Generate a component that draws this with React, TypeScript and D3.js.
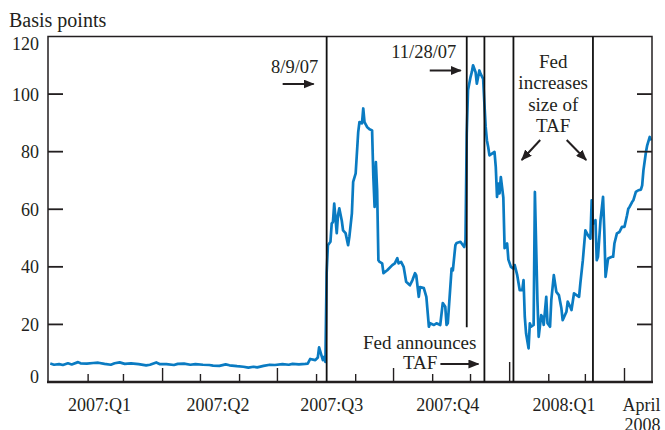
import * as d3 from 'd3';

type Point = [string, number];

// Libor-OIS style spread, basis points
const calmDays: Point[] = [
  ['2007-01-02', 6.4], ['2007-01-05', 6.0], ['2007-01-09', 6.2], ['2007-01-12', 5.9],
  ['2007-01-16', 6.5], ['2007-01-19', 6.1], ['2007-01-24', 6.9], ['2007-01-26', 6.5],
  ['2007-01-31', 6.4], ['2007-02-05', 6.6], ['2007-02-09', 6.7], ['2007-02-14', 6.3],
  ['2007-02-19', 6.0], ['2007-02-22', 6.5], ['2007-02-26', 6.8], ['2007-03-02', 6.3],
  ['2007-03-07', 6.5], ['2007-03-13', 6.2], ['2007-03-19', 5.8], ['2007-03-22', 6.0],
  ['2007-03-27', 6.8], ['2007-03-30', 6.2], ['2007-04-04', 6.2], ['2007-04-10', 5.9],
  ['2007-04-13', 6.3], ['2007-04-18', 6.4], ['2007-04-23', 6.0], ['2007-04-27', 6.2],
  ['2007-05-03', 6.0], ['2007-05-08', 5.9], ['2007-05-11', 5.7], ['2007-05-16', 5.6],
  ['2007-05-21', 6.1], ['2007-05-24', 5.8], ['2007-05-30', 5.5], ['2007-06-04', 5.3],
  ['2007-06-08', 5.0], ['2007-06-12', 5.3], ['2007-06-15', 5.1], ['2007-06-20', 5.6],
  ['2007-06-25', 6.0], ['2007-06-29', 5.9], ['2007-07-05', 6.2], ['2007-07-10', 6.0],
  ['2007-07-13', 6.3], ['2007-07-18', 6.1], ['2007-07-23', 6.3], ['2007-07-25', 6.4],
  ['2007-07-27', 8.0], ['2007-07-31', 7.6], ['2007-08-02', 8.5], ['2007-08-03', 12.0],
  ['2007-08-06', 7.6], ['2007-08-07', 8.7], ['2007-08-08', 7.0],
];

const turmoil2007: Point[] = [
  ['2007-08-09', 38.0], ['2007-08-10', 47.5], ['2007-08-12', 48.7], ['2007-08-13', 55.0],
  ['2007-08-14', 55.6], ['2007-08-15', 62.0], ['2007-08-17', 51.7], ['2007-08-18', 58.0],
  ['2007-08-19', 60.3], ['2007-08-21', 56.0], ['2007-08-22', 52.7], ['2007-08-24', 51.7],
  ['2007-08-26', 47.5], ['2007-08-27', 50.4], ['2007-08-29', 58.6], ['2007-08-30', 69.5],
  ['2007-09-01', 72.5], ['2007-09-03', 86.8], ['2007-09-04', 90.3], ['2007-09-06', 89.8],
  ['2007-09-07', 95.0], ['2007-09-08', 90.3], ['2007-09-10', 88.6], ['2007-09-12', 87.8],
  ['2007-09-14', 87.4], ['2007-09-15', 71.2], ['2007-09-16', 60.8], ['2007-09-17', 76.4],
  ['2007-09-18', 66.6], ['2007-09-19', 42.3], ['2007-09-20', 41.7], ['2007-09-22', 41.2],
  ['2007-09-23', 37.8], ['2007-09-26', 38.8], ['2007-09-30', 40.6], ['2007-10-02', 41.2],
  ['2007-10-04', 43.0], ['2007-10-05', 41.2], ['2007-10-07', 41.7], ['2007-10-09', 40.0],
  ['2007-10-11', 34.8], ['2007-10-14', 33.6], ['2007-10-16', 35.4], ['2007-10-18', 37.8],
  ['2007-10-19', 37.0], ['2007-10-21', 29.6], ['2007-10-22', 33.0], ['2007-10-25', 32.6],
  ['2007-10-27', 29.6], ['2007-10-29', 19.2], ['2007-10-30', 20.4], ['2007-11-02', 19.8],
  ['2007-11-04', 20.4], ['2007-11-07', 19.8], ['2007-11-09', 27.4], ['2007-11-11', 26.1],
  ['2007-11-12', 19.8], ['2007-11-13', 20.4], ['2007-11-16', 39.4], ['2007-11-17', 38.8],
  ['2007-11-19', 47.5], ['2007-11-20', 48.3], ['2007-11-23', 48.7], ['2007-11-24', 48.1],
  ['2007-11-26', 46.9], ['2007-11-27', 49.3], ['2007-11-28', 86.3], ['2007-11-29', 101.3],
  ['2007-12-01', 105.9], ['2007-12-02', 107.6], ['2007-12-03', 110.0], ['2007-12-05', 107.6],
  ['2007-12-06', 103.6], ['2007-12-08', 108.2], ['2007-12-09', 107.0], ['2007-12-11', 105.3],
  ['2007-12-12', 96.7], ['2007-12-13', 88.6], ['2007-12-14', 83.9], ['2007-12-15', 81.6],
  ['2007-12-16', 78.7], ['2007-12-18', 79.3], ['2007-12-20', 79.9], ['2007-12-21', 74.7],
  ['2007-12-22', 64.3], ['2007-12-23', 68.9], ['2007-12-24', 65.5], ['2007-12-25', 71.2],
  ['2007-12-26', 67.7], ['2007-12-27', 64.0], ['2007-12-28', 46.5], ['2007-12-29', 47.0],
  ['2007-12-30', 48.1], ['2007-12-31', 42.5],
];

const turmoil2008: Point[] = [
  ['2008-01-02', 40.0], ['2008-01-04', 39.4], ['2008-01-05', 40.6], ['2008-01-07', 37.1],
  ['2008-01-09', 31.9], ['2008-01-11', 31.9], ['2008-01-12', 35.4], ['2008-01-13', 22.6],
  ['2008-01-14', 16.9], ['2008-01-16', 11.7], ['2008-01-17', 20.4], ['2008-01-18', 19.2],
  ['2008-01-20', 19.8], ['2008-01-21', 66.0], ['2008-01-23', 28.4], ['2008-01-24', 15.7],
  ['2008-01-26', 23.2], ['2008-01-27', 22.6], ['2008-01-28', 19.8], ['2008-01-30', 29.6],
  ['2008-01-31', 20.4], ['2008-02-02', 19.2], ['2008-02-03', 28.4], ['2008-02-05', 37.1],
  ['2008-02-07', 31.3], ['2008-02-09', 30.2], ['2008-02-11', 25.6], ['2008-02-12', 21.5],
  ['2008-02-15', 24.4], ['2008-02-16', 27.9], ['2008-02-18', 26.1], ['2008-02-19', 25.0],
  ['2008-02-21', 30.8], ['2008-02-23', 30.2], ['2008-02-25', 29.6], ['2008-02-26', 34.2],
  ['2008-02-28', 42.3], ['2008-03-01', 52.7], ['2008-03-03', 51.0], ['2008-03-05', 49.8],
  ['2008-03-06', 63.1], ['2008-03-07', 55.0], ['2008-03-09', 56.2], ['2008-03-10', 42.3],
  ['2008-03-11', 43.5], ['2008-03-13', 56.2], ['2008-03-15', 64.3], ['2008-03-16', 52.7],
  ['2008-03-17', 36.5], ['2008-03-19', 42.9], ['2008-03-22', 43.5], ['2008-03-23', 43.5],
  ['2008-03-24', 48.1], ['2008-03-26', 51.6], ['2008-03-28', 52.1], ['2008-03-30', 53.9],
  ['2008-04-01', 53.9], ['2008-04-03', 57.9], ['2008-04-04', 60.2], ['2008-04-05', 60.8],
  ['2008-04-07', 62.5], ['2008-04-08', 63.1], ['2008-04-10', 66.0], ['2008-04-12', 66.6],
  ['2008-04-14', 66.8], ['2008-04-15', 68.3], ['2008-04-16', 73.5], ['2008-04-18', 79.9],
  ['2008-04-19', 82.2], ['2008-04-21', 85.1], ['2008-04-22', 83.9],
];

const yTickValues = [0, 20, 40, 60, 80, 100, 120];
const quarterLabels = ['2007:Q1', '2007:Q2', '2007:Q3', '2007:Q4', '2008:Q1'];
const quarterLabelDates = ['2007-02-10', '2007-05-15', '2007-08-13', '2007-11-13', '2008-02-13'];
const aug9 = '2007-08-09';
const nov28 = '2007-11-28';
const tafAnnounced = '2007-12-12';
const tafIncreases = ['2008-01-04', '2008-03-07'];

const W = 665;
const H = 430;
const INK = '#231f20';
const BLUE = '#0a7bc2';
const FONT = "'Liberation Serif', 'Times New Roman', serif";

const parse = d3.utcParse('%Y-%m-%d');

export default function App() {
  const x = d3
    .scaleUtc()
    .domain([new Date(Date.UTC(2006, 11, 31, 5)), new Date(Date.UTC(2008, 3, 22, 19))])
    .range([48, 652]);
  const y = d3.scaleLinear().domain([0, 120]).range([382, 36.5]);

  const series = [...calmDays, ...turmoil2007, ...turmoil2008].map(([d, v]) => ({
    date: parse(d) as Date,
    value: v,
  }));

  const line = d3
    .line<{ date: Date; value: number }>()
    .x((d) => x(d.date))
    .y((d) => y(d.value));

  const [x0, x1] = x.range();
  const months = d3.utcMonth.range(new Date(Date.UTC(2007, 1, 1)), x.domain()[1]);

  const xAug = x(parse(aug9) as Date);
  const xNov = x(parse(nov28) as Date);
  const xTaf = x(parse(tafAnnounced) as Date);
  const xInc = tafIncreases.map((d) => x(parse(d) as Date));
  const incMid = (xInc[0] + xInc[1]) / 2;
  const xApril = x(new Date(Date.UTC(2008, 3, 1)));

  const arrow = (ax1: number, ay1: number, ax2: number, ay2: number) => (
    <line x1={ax1} y1={ay1} x2={ax2} y2={ay2} stroke={INK} strokeWidth={2} markerEnd="url(#head)" />
  );

  return (
    <svg
      width={W}
      height={H}
      style={{ position: 'absolute', left: 0, top: 0, background: '#fff' }}
      fontFamily={FONT}
      fill={INK}
    >
      <defs>
        <marker id="head" markerUnits="userSpaceOnUse" markerWidth={11} markerHeight={9} refX={10} refY={4.5} orient="auto">
          <path d="M0,0 L11,4.5 L0,9 Z" fill={INK} />
        </marker>
      </defs>

      <text x={9} y={26.5} fontSize={20}>Basis points</text>

      {/* series */}
      <path d={line(series) ?? ''} fill="none" stroke={BLUE} strokeWidth={2.7} strokeLinejoin="round" />

      {/* frame */}
      <rect x={x0} y={y(120)} width={x1 - x0} height={y(0) - y(120)} fill="none" stroke={INK} strokeWidth={1.5} />
      <line x1={x0 - 1} x2={x1 + 1} y1={y(0)} y2={y(0)} stroke={INK} strokeWidth={2.6} />

      {/* y ticks both sides */}
      {yTickValues.filter((v) => v > 0 && v < 120).map((v) => (
        <g key={v} stroke={INK} strokeWidth={1.8}>
          <line x1={x0} x2={x0 + 15} y1={y(v)} y2={y(v)} />
          <line x1={x1 - 15} x2={x1} y1={y(v)} y2={y(v)} />
        </g>
      ))}
      {yTickValues.map((v) => (
        <text key={v} x={39} y={y(v) + (v === 0 ? 1 : v === 120 ? 13.5 : 6.5)} fontSize={18} textAnchor="end">
          {v}
        </text>
      ))}

      {/* month ticks */}
      {months.map((m) => {
        const mo = m.getUTCMonth();
        const len = mo === 0 ? 20 : mo % 3 === 0 ? 14 : 8;
        return <line key={m.toISOString()} x1={x(m)} x2={x(m)} y1={y(0)} y2={y(0) - len} stroke={INK} strokeWidth={1.4} />;
      })}

      {quarterLabels.map((q, i) => (
        <text key={q} x={x(parse(quarterLabelDates[i]) as Date)} y={411} fontSize={18} textAnchor="middle">
          {q}
        </text>
      ))}
      <text x={xApril - 2} y={411} fontSize={18}>April</text>
      <text x={xApril} y={431} fontSize={18}>2008</text>

      {/* event lines */}
      <g stroke="#111" strokeWidth={1.8}>
        <line x1={xAug} x2={xAug} y1={y(120)} y2={y(0)} />
        <line x1={xNov} x2={xNov} y1={y(120)} y2={y(19)} />
        <line x1={xTaf} x2={xTaf} y1={y(120)} y2={y(0)} />
        {xInc.map((xi) => (
          <line key={xi} x1={xi} x2={xi} y1={y(120)} y2={y(0)} />
        ))}
      </g>

      {/* annotations */}
      <text x={xAug - 32} y={73} fontSize={18.5} textAnchor="middle">8/9/07</text>
      {arrow(xAug - 44, 84, xAug - 13, 84)}

      <text x={xNov - 43} y={58} fontSize={18.5} textAnchor="middle">11/28/07</text>
      {arrow(xNov - 37, 70.5, xNov - 6, 70.5)}

      <text x={xTaf - 8} y={349} fontSize={19} textAnchor="end">Fed announces</text>
      <text x={xTaf - 47} y={368.5} fontSize={19} textAnchor="end">TAF</text>
      {arrow(xTaf - 44, 364, xTaf - 6, 364)}

      <g fontSize={19} textAnchor="middle">
        <text x={incMid} y={67.5}>Fed</text>
        <text x={incMid} y={89}>increases</text>
        <text x={incMid} y={110.5}>size of</text>
        <text x={incMid} y={132}>TAF</text>
      </g>
      {arrow(incMid - 13, 140, incMid - 31.5, 160)}
      {arrow(incMid + 13.5, 140, incMid + 33, 160)}
    </svg>
  );
}
